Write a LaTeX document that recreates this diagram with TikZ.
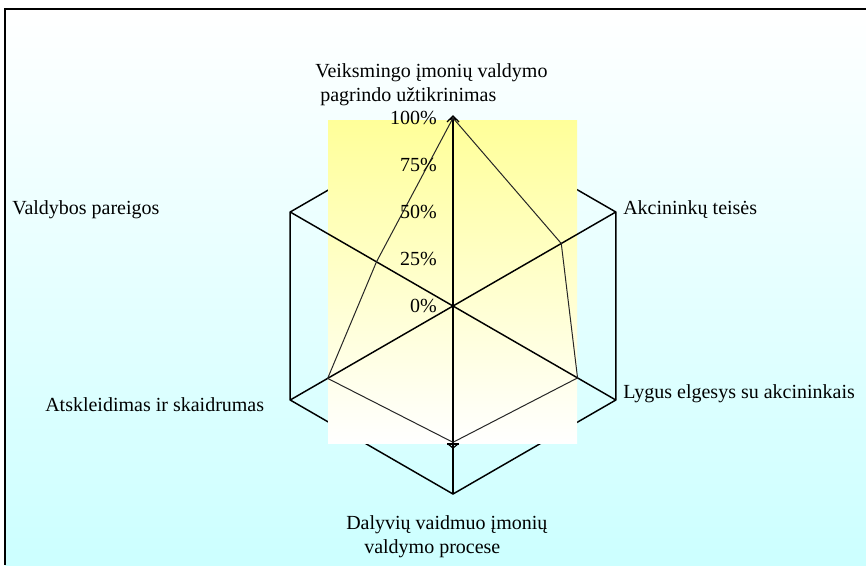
\documentclass[tikz,border=0pt]{standalone}
\usepackage{fontspec}
\setmainfont{Liberation Serif}
\usetikzlibrary{calc}

\definecolor{skycyan}{RGB}{204,255,255}
\definecolor{paleyellow}{RGB}{255,255,153}

\begin{document}
\begin{tikzpicture}[
  x=0.75pt, y=-0.75pt,
  axisline/.style={black, line width=1.1pt},
  dataline/.style={black!85, line width=0.75pt},
  catlabel/.style={anchor=base west, inner sep=0pt, align=left, font=\fontsize{15}{18}\selectfont},
  pctlabel/.style={anchor=east, inner sep=0pt, font=\fontsize{15}{18}\selectfont}
]
\useasboundingbox (0,0) rectangle (866,565);

% Background
\shade[top color=white, bottom color=skycyan] (5,9) rectangle (866,565);
\draw[line width=1.1pt] (5,565) -- (5,9) -- (866,9);

% Axes
\coordinate (c) at (453,306);
\coordinate (v1) at (453,118);
\coordinate (v2) at (615.8,212);
\coordinate (v3) at (615.8,400);
\coordinate (v4) at (453,494);
\coordinate (v5) at (290.2,400);
\coordinate (v6) at (290.2,212);
\draw[axisline] (v1) -- (v2) -- (v3) -- (v4) -- (v5) -- (v6) -- cycle;

% Plot area
\shade[top color=paleyellow, bottom color=white] (328,120) rectangle (577,443);

\foreach \i in {1,...,6}
  \draw[axisline] (c) -- (v\i);

% Values
\coordinate (d1) at (v1);
\coordinate (d2) at ($(c)!0.665!(v2)$);
\coordinate (d3) at ($(c)!0.765!(v3)$);
\coordinate (d4) at ($(c)!0.725!(v4)$);
\coordinate (d5) at ($(c)!0.77!(v5)$);
\coordinate (d6) at ($(c)!0.47!(v6)$);
\draw[dataline] (d1) -- (d2) -- (d3) -- (d4) -- (d5) -- (d6) -- cycle;

% Markers
\draw[line width=0.9pt] (447,122) -- (453,116) -- (459,122);
\draw[line width=0.9pt] (447,444) -- (459,444);
\draw[line width=0.9pt] (448,444) -- (453,448) -- (458,444);

% Scale
\node[pctlabel] (p100) at (437,118) {100\%};
\node[pctlabel] (p75) at (437,165) {75\%};
\node[pctlabel] (p50) at (437,212) {50\%};
\node[pctlabel] (p25) at (437,259) {25\%};
\node[pctlabel] (p0) at (437,306) {0\%};

% Categories
\node[catlabel] (veiksm) at (315,101) {Veiksmingo įmonių valdymo\\\hspace*{.25em}pagrindo užtikrinimas};
\node[catlabel] (akcin) at (623,214) {Akcininkų teisės};
\node[catlabel] (lygus) at (623,398) {Lygus elgesys su akcininkais};
\node[catlabel] (dalyv) at (346,553) {Dalyvių vaidmuo įmonių\\\hspace*{.9em}valdymo procese};
\node[catlabel] (atskl) at (45,411) {Atskleidimas ir skaidrumas};
\node[catlabel] (valdyb) at (12,214) {Valdybos pareigos};

\end{tikzpicture}
\end{document}
